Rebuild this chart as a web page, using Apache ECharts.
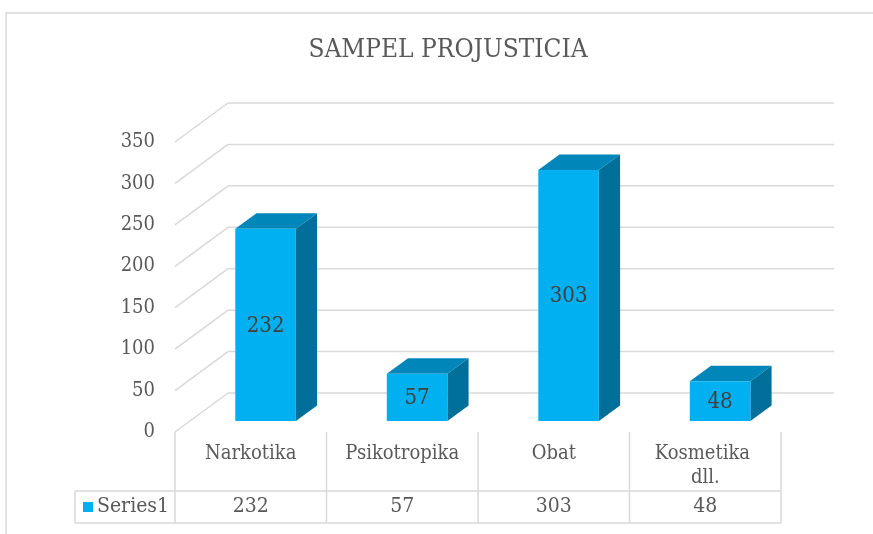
<!DOCTYPE html>
<html><head><meta charset="utf-8">
<script src="https://cdn.jsdelivr.net/npm/echarts@6/dist/echarts.min.js"></script>
<style>html,body{margin:0;padding:0;background:#fff}#c{width:873px;height:534px}</style>
</head><body><div id="c"></div>
<script>
const titleText = 'SAMPEL PROJUSTICIA';
const categories = ['Narkotika', 'Psikotropika', 'Obat', 'Kosmetika dll.'];
const seriesName = 'Series1';
const values = [232, 57, 303, 48];
const yTicks = [0, 50, 100, 150, 200, 250, 300, 350];

const FONT = '"DejaVu Serif Condensed", "DejaVu Serif", serif';
const TXT = '#595959';
const GRID = '#D9D9D9';
const FRONT = '#00B0F0', TOP = '#0086B8', SIDE = '#006F99';
const DX = 53, DY = -39;          // back-wall offset
const FD = 0.28, BD = 0.40;       // bar front depth, bar depth
const BARW = 0.40;                // bar width as fraction of band
const HDR = 59, ROWB = 91, KEYW = 100;

const chart = echarts.init(document.getElementById('c'), null, {renderer: 'canvas'});

function gridItem(params, api) {
  const v = api.value(1);
  const p = api.coord([0, v]);
  const band = api.size([1, 0])[0];
  const left = p[0] - band / 2;
  const right = left + band * categories.length;
  const y = p[1];
  const st = {stroke: GRID, lineWidth: 1.5};
  return {type: 'group', children: [
    {type: 'line', shape: {x1: left, y1: y, x2: left + DX, y2: y + DY}, style: st},
    {type: 'line', shape: {x1: left + DX, y1: y + DY, x2: right + DX, y2: y + DY}, style: st}
  ]};
}

function barItem(params, api) {
  const i = api.value(0), v = api.value(1);
  const base = api.coord([i, 0]);
  const top = api.coord([i, v]);
  const band = api.size([1, 0])[0];
  const w = band * BARW;
  const x0 = base[0] - w / 2 + DX * FD;
  const y0 = base[1] + DY * FD;
  const yt = top[1] + DY * FD;
  const bx = DX * BD, by = DY * BD;
  return {type: 'group', children: [
    {type: 'polygon', shape: {points: [[x0 + w, yt], [x0 + w, y0], [x0 + w + bx, y0 + by], [x0 + w + bx, yt + by]]}, style: {fill: SIDE}},
    {type: 'polygon', shape: {points: [[x0, yt], [x0 + w, yt], [x0 + w + bx, yt + by], [x0 + bx, yt + by]]}, style: {fill: TOP}},
    {type: 'rect', shape: {x: x0, y: yt, width: w, height: y0 - yt}, style: {fill: FRONT}},
    {type: 'text', style: {x: x0 + w / 2, y: (yt + y0) / 2 + 1, text: String(v), align: 'center', verticalAlign: 'middle',
      fill: '#404040', font: '22px ' + FONT}}
  ]};
}

function tableItem(params, api) {
  const i = api.value(0), v = api.value(1);
  const c = api.coord([i, 0]);
  const band = api.size([1, 0])[0];
  const y0 = c[1];
  const st = {stroke: GRID, lineWidth: 1.5};
  const n = categories.length;
  const left = c[0] - band * (i + 0.5);
  const right = left + band * n;
  const kids = [
    {type: 'line', shape: {x1: c[0] + band / 2, y1: y0, x2: c[0] + band / 2, y2: y0 + ROWB}, style: st},
    {type: 'text', style: {x: c[0], y: y0 + (HDR + ROWB) / 2, text: String(v), align: 'center', verticalAlign: 'middle',
      fill: TXT, font: '21px ' + FONT}}
  ];
  if (i === 0) {
    kids.push(
      {type: 'line', shape: {x1: left, y1: y0, x2: left, y2: y0 + ROWB}, style: st},
      {type: 'line', shape: {x1: left - KEYW, y1: y0 + HDR, x2: left - KEYW, y2: y0 + ROWB}, style: st},
      {type: 'line', shape: {x1: left - KEYW, y1: y0 + HDR, x2: right, y2: y0 + HDR}, style: st},
      {type: 'line', shape: {x1: left - KEYW, y1: y0 + ROWB, x2: right, y2: y0 + ROWB}, style: st},
      {type: 'rect', shape: {x: left - KEYW + 8, y: y0 + (HDR + ROWB) / 2 - 5, width: 10, height: 10}, style: {fill: FRONT}},
      {type: 'text', style: {x: left - KEYW + 22, y: y0 + (HDR + ROWB) / 2, text: seriesName, align: 'left', verticalAlign: 'middle',
        fill: TXT, font: '21px ' + FONT}}
    );
  }
  return {type: 'group', children: kids};
}

chart.setOption({
  animation: false,
  backgroundColor: '#fff',
  grid: {left: 175, right: 92, top: 142, bottom: 102, containLabel: false},
  xAxis: {
    type: 'category', data: categories,
    axisLine: {show: false}, axisTick: {show: false}, splitLine: {show: false},
    axisLabel: {margin: 10, color: TXT, fontFamily: FONT, fontSize: 20, lineHeight: 24, width: 122, overflow: 'break', interval: 0}
  },
  yAxis: {
    type: 'value', min: 0, max: 350, interval: 50,
    axisLine: {show: false}, axisTick: {show: false}, splitLine: {show: false},
    axisLabel: {margin: 20, color: TXT, fontFamily: FONT, fontSize: 20}
  },
  graphic: [
    {type: 'rect', shape: {x: 6, y: 13, width: 900, height: 600}, style: {fill: 'none', stroke: GRID, lineWidth: 1.5}, z: -1},
    {type: 'text', x: 448, y: 50, style: {text: titleText, align: 'center', verticalAlign: 'middle', fill: TXT, font: '26px ' + FONT}}
  ],
  series: [
    {type: 'custom', name: 'grid', renderItem: gridItem, data: yTicks.map(v => [0, v]), clip: false, silent: true, z: 1},
    {type: 'custom', name: 'table', renderItem: tableItem, data: values.map((v, i) => [i, v]), clip: false, silent: true, z: 1},
    {type: 'custom', name: seriesName, renderItem: barItem, data: values.map((v, i) => [i, v]), clip: false, z: 2}
  ]
});
</script>
</body></html>
